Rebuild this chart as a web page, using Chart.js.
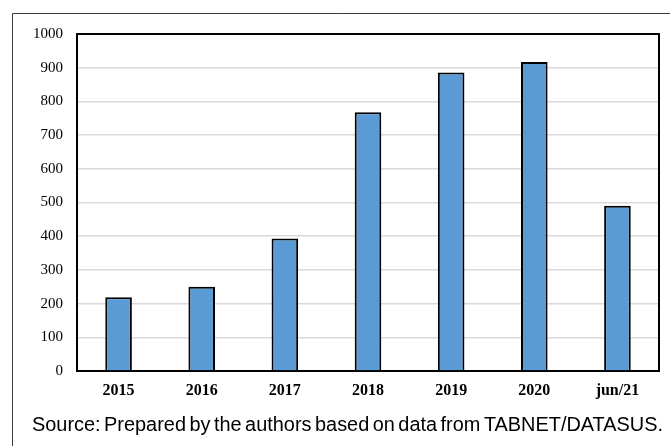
<!DOCTYPE html>
<html>
<head>
<meta charset="utf-8">
<script src="https://cdn.jsdelivr.net/npm/chart.js@4"></script>
<style>
  html, body { margin: 0; padding: 0; background: #fff; }
  #wrap { position: relative; width: 670px; height: 446px; }
</style>
</head>
<body>
<div id="wrap"><canvas id="c" width="670" height="446"></canvas></div>
<script>
const categories = ['2015', '2016', '2017', '2018', '2019', '2020', 'jun/21'];
const cases = [219, 250, 393, 768, 886, 917, 490];
const yTicks = [0, 100, 200, 300, 400, 500, 600, 700, 800, 900, 1000];
const sourceNote = 'Source: Prepared by the authors based on data from TABNET/DATASUS.';

// Frame lines, top/right plot border and the source note
const decorations = {
  id: 'decorations',
  afterDraw(chart) {
    const ctx = chart.ctx;
    const a = chart.chartArea;
    ctx.save();
    // outer frame (top and left edges)
    ctx.strokeStyle = '#3a3a3a';
    ctx.lineWidth = 1;
    ctx.beginPath();
    ctx.moveTo(670, 13.5);
    ctx.lineTo(12.5, 13.5);
    ctx.lineTo(12.5, 446);
    ctx.stroke();
    // plot border on top and right
    ctx.strokeStyle = '#000';
    ctx.lineWidth = 2;
    ctx.beginPath();
    ctx.moveTo(a.left, a.top);
    ctx.lineTo(a.right, a.top);
    ctx.lineTo(a.right, a.bottom);
    ctx.stroke();
    // source note, set tight with narrow word gaps
    ctx.fillStyle = '#000';
    ctx.font = '20px "Liberation Sans", Arial, sans-serif';
    ctx.textBaseline = 'alphabetic';
    ctx.textAlign = 'left';
    const words = sourceNote.split(' ');
    const widths = words.map(w => ctx.measureText(w).width);
    const total = 631;
    const wordsW = widths.reduce((s, v) => s + v, 0);
    let gap = (total - wordsW) / (words.length - 1);
    let sx = 1;
    if (gap < 3.5) { gap = 3.5; sx = (total - gap * (words.length - 1)) / wordsW; }
    let x = 32;
    words.forEach((w, i) => {
      ctx.save();
      ctx.translate(x, 431);
      ctx.scale(sx, 1);
      ctx.fillText(w, 0, 0);
      ctx.restore();
      x += widths[i] * sx + gap;
    });
    ctx.restore();
  }
};

new Chart(document.getElementById('c'), {
  type: 'bar',
  data: {
    labels: categories,
    datasets: [{
      data: cases,
      backgroundColor: '#5B9BD5',
      borderColor: '#000',
      borderWidth: 2,
      categoryPercentage: 1,
      barPercentage: 0.32
    }]
  },
  options: {
    responsive: false,
    animation: false,
    layout: { padding: { top: 34, right: 11, bottom: 0, left: 0 } },
    plugins: { legend: { display: false }, tooltip: { enabled: false } },
    scales: {
      x: {
        grid: { display: false, drawTicks: false },
        border: { color: '#000', width: 2 },
        ticks: {
          color: '#000',
          padding: 10,
          font: { family: '"Liberation Serif", "Times New Roman", serif', size: 16, weight: 'bold' }
        },
        afterFit(scale) { scale.height = 75; }
      },
      y: {
        min: 0,
        max: 1000,
        afterBuildTicks(scale) { scale.ticks = yTicks.map(v => ({ value: v })); },
        grid: { color: '#d9d9d9', lineWidth: 1.5, drawTicks: false },
        border: { color: '#000', width: 2 },
        ticks: {
          color: '#000',
          padding: 14,
          callback: v => String(v),
          font: { family: '"Liberation Serif", "Times New Roman", serif', size: 15 }
        },
        afterFit(scale) { scale.width = 77; }
      }
    }
  },
  plugins: [decorations]
});
</script>
</body>
</html>
